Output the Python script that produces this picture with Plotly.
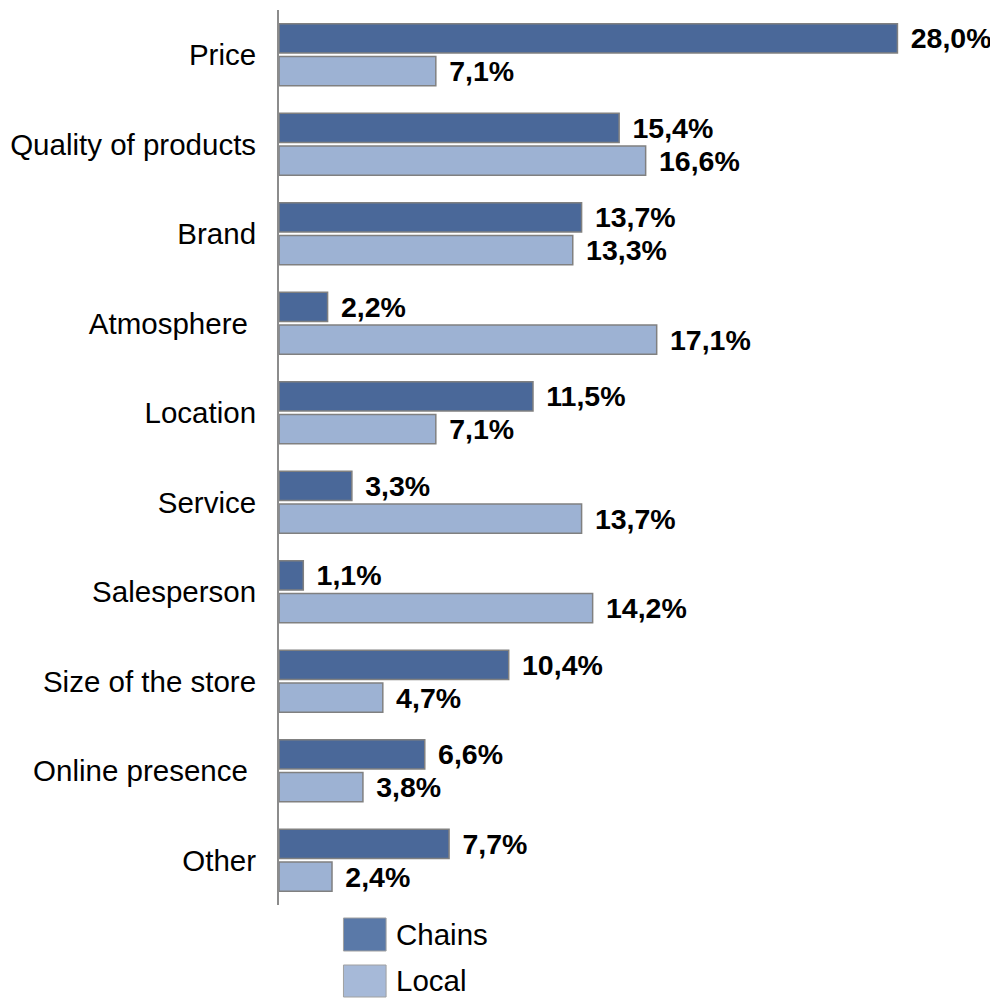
import plotly.graph_objects as go

categories = [
    "Price",
    "Quality of products",
    "Brand",
    "Atmosphere ",
    "Location",
    "Service",
    "Salesperson",
    "Size of the store",
    "Online presence ",
    "Other",
]
chains = [28.0, 15.4, 13.7, 2.2, 11.5, 3.3, 1.1, 10.4, 6.6, 7.7]
local = [7.1, 16.6, 13.3, 17.1, 7.1, 13.7, 14.2, 4.7, 3.8, 2.4]
series_names = ["Chains", "Local"]

FONT = "Liberation Sans, Arial, sans-serif"
FS = 29.5
VFS = 28.5
CHAINS_COLOR = "#4a6899"
LOCAL_COLOR = "#9db2d3"
EDGE = "#808080"


def fmt(v):
    return "\u00a0\u200a" + f"{v:.1f}".replace(".", ",") + "%"


fig = go.Figure()
for name, vals, color in [
    (series_names[0], chains, CHAINS_COLOR),
    (series_names[1], local, LOCAL_COLOR),
]:
    fig.add_trace(
        go.Bar(
            y=categories,
            x=vals,
            orientation="h",
            name=name,
            marker=dict(color=color, line=dict(color=EDGE, width=1.5)),
            text=[fmt(v) for v in vals],
            textposition="outside",
            textfont=dict(family=FONT, size=VFS, color="black", weight="bold"),
            constraintext="none",
            cliponaxis=False,
            showlegend=False,
        )
    )

# page body adds an 8px offset; plot area on screen spans x ~275..990, y 10..905
W, H = 715, 895


def px(xp):
    return (xp - 278) / W


def py(yp):
    return (905 - yp) / H


legend_rows = [
    (series_names[0], "#5a79a8", 918, 951),
    (series_names[1], "#a6b9d8", 965, 997),
]
shapes = []
annotations = []
for name, color, y0, y1 in legend_rows:
    shapes.append(
        dict(
            type="rect",
            xref="paper",
            yref="paper",
            x0=px(343),
            x1=px(386),
            y0=py(y1),
            y1=py(y0),
            fillcolor=color,
            line=dict(color="#a0a0a0", width=1),
        )
    )
    annotations.append(
        dict(
            xref="paper",
            yref="paper",
            x=px(394),
            y=py((y0 + y1) / 2),
            text=name,
            showarrow=False,
            xanchor="left",
            yanchor="middle",
            font=dict(family=FONT, size=FS, color="black"),
        )
    )

fig.update_layout(
    width=990,
    height=990,
    margin=dict(l=265, r=10, t=2, b=93),
    barmode="group",
    bargap=0.27,
    bargroupgap=0.1,
    plot_bgcolor="white",
    paper_bgcolor="white",
    font=dict(family=FONT, size=FS, color="black"),
    shapes=shapes,
    annotations=annotations,
)
fig.update_xaxes(
    range=[0, 32.1],
    showgrid=False,
    zeroline=False,
    showticklabels=False,
    showline=False,
)
fig.update_yaxes(
    autorange="reversed",
    showgrid=False,
    showline=True,
    linecolor="#8c8c8c",
    linewidth=2,
    ticks="",
    ticklabelstandoff=15,
    tickfont=dict(family=FONT, size=FS, color="black"),
)

fig.write_html("out.html")
